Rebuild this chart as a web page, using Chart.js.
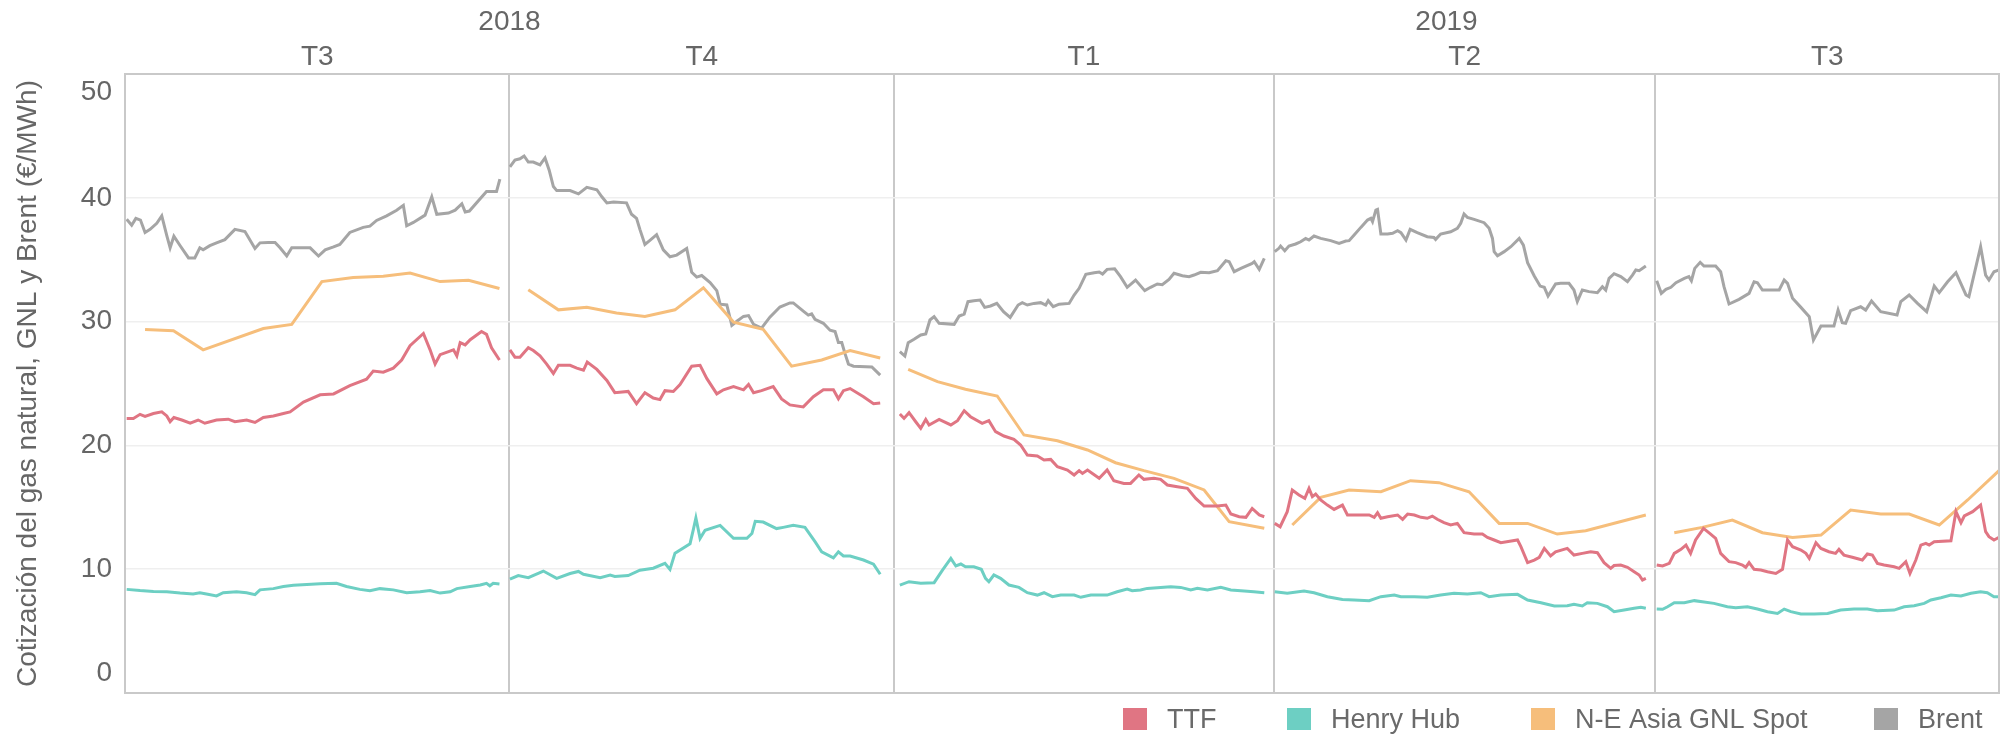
<!DOCTYPE html>
<html><head><meta charset="utf-8">
<script src="https://cdn.jsdelivr.net/npm/chart.js@4.4.1/dist/chart.umd.min.js"></script>
<style>html,body{margin:0;padding:0;background:#fff;}#wrap{width:2002px;height:738px;}</style>
</head><body><div id="wrap"><canvas id="c" width="2002" height="738"></canvas></div>
<script>
// x values are days since 2018-07-01; each pane is one quarter
const paneBounds = [0, 92, 184, 274.9, 366.2, 448.4];
const quarterLabels = ['T3', 'T4', 'T1', 'T2', 'T3'];
const yearLabels = ['2018', '2019'];
const yearPaneSpans = [[0, 2], [2, 5]];
const yTicks = [0, 10, 20, 30, 40, 50];
const seriesNames = ['TTF', 'Henry Hub', 'N-E Asia GNL Spot', 'Brent'];
const seriesColors = ['#e07583', '#6dcfc3', '#f6be7b', '#a5a5a5'];
const yTitle = 'Cotización del gas natural, GNL y Brent (€/MWh)';

const ttf = [
[0.4,22.18],[2,22.18],[3.6,22.51],[4.8,22.35],[6.8,22.58],[8.8,22.71],[10,22.38],[10.8,21.92],[11.7,22.25],[13.6,22.05],[15.6,21.79],[17.5,22.05],[19.1,21.79],[21.9,22.05],[24.7,22.12],[26.3,21.92],[29.1,22.05],[31.1,21.85],[33.1,22.25],[35.5,22.38],[37.9,22.58],[39.5,22.71],[42.7,23.5],[46.7,24.09],[49.9,24.16],[53.8,24.82],[57.8,25.35],[59.4,26.01],[61.8,25.91],[64.2,26.24],[66.2,26.9],[68.2,28.05],[71.4,29.04],[73,27.72],[74.2,26.57],[75.4,27.33],[78.6,27.72],[79.4,27.23],[80.2,28.31],[81.4,28.12],[82.6,28.54],[85.3,29.2],[86.5,28.97],[87.7,27.89],[89.6,26.9],
[92.1,27.72],[93.3,27.13],[94.5,27.13],[96.5,27.89],[97.7,27.66],[99.3,27.23],[100.9,26.57],[102.5,25.81],[103.7,26.47],[106.5,26.47],[108.1,26.24],[109.7,26.07],[110.6,26.73],[112.9,26.14],[115.3,25.25],[117.2,24.26],[120.4,24.36],[122.4,23.37],[124.4,24.26],[126.4,23.83],[128,23.7],[129.2,24.42],[131.2,24.36],[132.8,24.92],[135.6,26.4],[137.6,26.47],[139.2,25.41],[141.6,24.16],[143.2,24.49],[145.6,24.75],[148,24.49],[149.2,24.92],[150.4,24.26],[152.3,24.42],[155.1,24.75],[157.1,23.76],[159.1,23.27],[162.3,23.11],[164.7,23.93],[167.1,24.49],[169.5,24.49],[170.7,23.76],[171.9,24.42],[173.5,24.59],[176.7,23.93],[179.1,23.37],[180.7,23.43],
[185.4,22.53],[186.4,22.18],[187.6,22.64],[189.2,21.91],[190.4,21.38],[191.6,22.1],[192.4,21.65],[194.8,22.1],[197.6,21.65],[199.2,22.0],[200.8,22.8],[202.3,22.32],[205.1,21.78],[206.7,22.0],[208.3,21.11],[210.3,20.76],[212.7,20.49],[214.3,20.03],[215.9,19.22],[218.3,19.14],[219.9,18.82],[221.5,18.87],[223.1,18.28],[225.5,18.01],[227.1,17.61],[228.3,17.96],[229.1,17.74],[230.3,18.01],[233.1,17.34],[235,18.01],[236.6,17.15],[239,16.93],[240.6,16.93],[242.6,17.61],[243.8,17.26],[246.2,17.34],[247.8,17.26],[249.4,16.8],[251.8,16.66],[254.2,16.53],[256.2,15.72],[258.2,15.1],[261.4,15.1],[263.4,15.18],[264.6,14.46],[266.6,14.24],[268.2,14.19],[269.7,14.91],[271.4,14.38],[272.6,14.24],
[275.1,13.7],[276.4,13.43],[278.1,14.65],[279.3,16.39],[280.9,15.99],[282.3,15.72],[283.3,16.53],[284.1,15.86],[284.9,16.07],[286.1,15.59],[287.7,15.18],[289.3,14.83],[291.3,15.18],[292.5,14.38],[294.9,14.38],[297.7,14.38],[298.9,14.19],[299.7,14.56],[300.5,14.11],[302.1,14.24],[304.5,14.38],[305.7,14.03],[306.9,14.46],[308.5,14.38],[310.1,14.19],[311.6,14.11],[312.8,14.29],[314,14.03],[315.6,13.76],[317.2,13.57],[318.8,13.7],[320.4,12.95],[322.8,12.84],[324.8,12.84],[326,12.57],[327.6,12.36],[329.2,12.14],[333.2,12.36],[334,11.82],[335.6,10.53],[337.2,10.74],[338.4,10.96],[339.6,11.68],[341.1,11.07],[342.3,11.41],[345.1,11.68],[346.7,11.14],[348.7,11.28],[350.7,11.41],[352.3,11.33],[353.9,10.53],[355.5,10.07],[356.3,10.3],[357.9,10.34],[359.5,10.15],[361.1,9.8],[362.3,9.53],[363.1,9.13],[363.9,9.26],
[366.5,10.34],[367.9,10.26],[369.5,10.47],[370.7,11.28],[372.3,11.6],[373.5,11.95],[374.6,11.28],[375.8,12.36],[377.7,13.3],[379.4,12.84],[380.6,12.49],[381.8,11.28],[383.8,10.61],[385.4,10.53],[387,10.34],[387.8,10.15],[388.6,10.53],[389.8,9.99],[391.4,9.93],[393,9.8],[395,9.66],[396.6,9.99],[397.8,12.36],[399,11.82],[401,11.55],[402.2,11.28],[403,10.88],[404.6,12.14],[405.8,11.68],[407.7,11.41],[409.3,11.28],[410.1,11.6],[411.3,11.14],[413.3,10.96],[415.7,10.74],[416.9,11.23],[418.1,11.14],[419.3,10.47],[420.9,10.34],[423.3,10.2],[424.5,10.07],[426.1,10.61],[427.1,9.66],[428.5,10.74],[429.7,11.95],[430.9,12.09],[431.7,11.95],[432.9,12.22],[436.9,12.3],[438.1,14.65],[439.3,13.76],[440.1,14.3],[442.1,14.65],[444,15.18],[445.2,13.03],[446,12.63],[447.2,12.36],[448.4,12.57]
];

const henryHub = [
[0.4,8.37],[3.6,8.27],[6.8,8.2],[10,8.17],[13.2,8.07],[16.3,8.0],[17.9,8.1],[19.5,8.0],[21.9,7.84],[23.5,8.1],[26.7,8.17],[29.1,8.1],[31.1,7.94],[32.3,8.33],[35.5,8.43],[37.9,8.6],[40.3,8.7],[43.5,8.76],[46.7,8.83],[50.6,8.86],[53,8.6],[56.2,8.37],[58.6,8.27],[61,8.43],[64.2,8.33],[67.4,8.1],[70.6,8.17],[73,8.27],[75.4,8.07],[77.8,8.17],[79.4,8.43],[82.6,8.6],[85,8.73],[86.5,8.86],[87.3,8.66],[88.1,8.86],[89.6,8.8],
[92.1,9.19],[94.1,9.49],[96.5,9.32],[100.1,9.85],[103.3,9.26],[106.5,9.65],[108.5,9.82],[109.7,9.59],[113.7,9.32],[116.1,9.52],[117.2,9.42],[120.4,9.49],[123.2,9.92],[126.4,10.08],[129.2,10.48],[130.4,9.98],[131.6,11.3],[135.2,12.06],[136,13.21],[136.6,14.14],[137.6,12.49],[138.8,13.15],[142.4,13.54],[145.6,12.49],[148.8,12.49],[150,12.88],[150.8,13.87],[152.7,13.81],[155.9,13.28],[157.5,13.38],[159.9,13.54],[162.7,13.38],[165.1,12.22],[166.7,11.4],[169.5,10.91],[170.7,11.4],[171.9,11.07],[173.5,11.07],[176.7,10.74],[179.1,10.41],[180.7,9.59],
[185.4,8.72],[187.6,8.99],[190.4,8.86],[193.6,8.91],[195.6,9.93],[197.6,10.88],[198.8,10.26],[200,10.42],[201.1,10.2],[203.1,10.2],[204.9,9.99],[205.9,9.26],[206.7,8.99],[207.9,9.53],[209.5,9.26],[211.5,8.72],[213.9,8.53],[215.9,8.1],[218.3,7.91],[219.9,8.1],[221.9,7.78],[223.9,7.91],[227.1,7.91],[228.7,7.73],[231.1,7.91],[235,7.91],[237.4,8.18],[239.8,8.4],[241,8.26],[243,8.32],[244.6,8.45],[247.8,8.53],[250.2,8.59],[252.6,8.53],[255,8.32],[256.6,8.45],[259,8.32],[262.2,8.53],[264.6,8.32],[267.8,8.24],[270.1,8.18],[272.6,8.1],
[275.1,8.18],[278.1,8.05],[282.1,8.24],[284.5,8.1],[287.7,7.78],[291.3,7.56],[294.1,7.51],[297.7,7.46],[300.5,7.78],[303.7,7.91],[305.3,7.78],[308.5,7.78],[311.6,7.73],[314.8,7.91],[318,8.05],[321.2,7.99],[324.4,8.1],[326.4,7.78],[329.2,7.91],[333.2,7.97],[335.6,7.51],[338.8,7.29],[342,7.03],[345.1,7.05],[346.7,7.16],[348.7,7.03],[349.9,7.29],[352.3,7.24],[354.7,6.97],[356.3,6.57],[358.7,6.7],[361.1,6.84],[362.7,6.92],[363.9,6.84],
[366.5,6.78],[367.9,6.76],[369.1,6.97],[370.7,7.29],[373.1,7.29],[375.5,7.46],[377.4,7.37],[380.2,7.24],[383.4,6.97],[385.4,6.89],[388.2,6.97],[390.6,6.78],[393,6.57],[395.4,6.43],[397,6.78],[398.6,6.57],[401,6.38],[404.2,6.38],[407.4,6.43],[410.5,6.7],[413.7,6.78],[416.9,6.78],[419.3,6.65],[423.3,6.7],[425.7,6.97],[428.1,7.05],[430.5,7.24],[432.1,7.51],[434.5,7.7],[436.9,7.91],[439.3,7.83],[441.7,8.05],[444,8.18],[445.6,8.1],[447.2,7.78],[448.4,7.78]
];

const lngAsia = [
[4.8,29.37],[11.6,29.27],[18.7,27.72],[33.1,29.44],[39.9,29.77],[47.1,33.23],[54.6,33.56],[61.8,33.66],[68.2,33.92],[75.4,33.23],[82.2,33.33],[89.6,32.67],
[96.5,32.57],[103.7,30.95],[110.5,31.15],[117.6,30.69],[124.4,30.42],[131.6,30.95],[138.4,32.73],[145.6,29.96],[152.7,29.37],[159.5,26.4],[166.7,26.9],[173.5,27.66],[180.7,27.06],
[187.4,26.14],[194.4,25.15],[201.1,24.53],[208.7,23.99],[215.1,20.84],[223.1,20.38],[230.3,19.63],[237,18.6],[243.8,17.96],[251,17.34],[258.2,16.4],[264.2,13.84],[272.6,13.3],
[279.3,13.57],[286.1,15.8],[292.9,16.39],[300.5,16.26],[307.6,17.15],[314.4,16.99],[321.6,16.26],[328.8,13.7],[335.6,13.7],[342.7,12.84],[349.5,13.11],[363.9,14.38],
[370.7,12.95],[377.4,13.38],[384.6,13.97],[391.8,12.95],[399,12.57],[405.8,12.76],[412.9,14.78],[420.1,14.46],[426.9,14.46],[434.1,13.57],[440.9,15.59],[448.4,17.96]
];

const brent = [
[0.4,38.27],[1.6,37.78],[2.6,38.34],[3.7,38.2],[4.8,37.2],[6,37.45],[7.6,37.94],[8.8,38.54],[10,36.95],[10.8,35.96],[11.7,36.9],[13.2,36.13],[15.2,35.14],[16.7,35.14],[17.9,35.96],[18.7,35.8],[20.3,36.13],[21.9,36.36],[23.9,36.62],[26.3,37.45],[28.7,37.28],[31.1,35.9],[32.3,36.36],[34.3,36.39],[35.9,36.39],[37.1,35.96],[38.7,35.3],[39.9,35.96],[42.3,35.96],[44.3,35.96],[46.3,35.3],[47.9,35.8],[49.9,36.03],[51.4,36.23],[53.8,37.2],[57,37.61],[58.6,37.71],[60.2,38.17],[62.6,38.54],[65,39],[66.6,39.39],[67.4,37.74],[69,38.01],[71.8,38.6],[73.4,40.08],[74.6,38.67],[77.4,38.77],[79,39],[80.6,39.52],[81.4,38.86],[82.4,38.93],[86.5,40.51],[88.9,40.51],[89.7,41.5],
[92.1,42.49],[93.3,43.05],[94.5,43.15],[95.5,43.38],[96.5,42.89],[97.7,42.89],[99.3,42.66],[100.5,43.22],[101.5,42.23],[102.5,40.91],[103.3,40.58],[106.5,40.58],[108.5,40.32],[110.5,40.84],[112.9,40.65],[114.1,40.08],[115.3,39.59],[116.9,39.66],[120,39.59],[121.2,38.67],[122.4,38.34],[123.2,37.45],[124.4,36.23],[125.6,36.56],[127.2,37.02],[128.8,35.8],[130.4,35.24],[132,35.37],[134.4,35.9],[135.6,33.99],[136.8,33.59],[138,33.72],[140,33.16],[141.6,32.5],[142.4,31.41],[144,31.35],[145.2,29.7],[146.4,30.03],[148,30.42],[149.2,30.49],[150.4,29.77],[152.3,29.47],[154.3,30.36],[156.7,31.18],[159.1,31.51],[159.9,31.51],[162.3,30.85],[163.5,30.52],[164.3,30.62],[165.1,30.19],[167.1,29.86],[168.7,29.3],[169.9,29.2],[170.7,28.31],[171.5,28.31],[172.3,27.39],[173.1,26.57],[174.3,26.4],[178.7,26.34],[180.7,25.68],
[185.4,27.57],[186.6,27.22],[187.4,28.3],[188.8,28.57],[190.4,28.92],[191.6,29.0],[192.6,30.13],[193.6,30.4],[194.8,29.86],[198.4,29.78],[199.6,30.45],[200.8,30.61],[201.7,31.61],[203.1,31.69],[204.6,31.74],[205.7,31.15],[207.1,31.26],[208.6,31.47],[210.2,30.8],[211.8,30.34],[213.7,31.34],[214.7,31.53],[215.9,31.34],[217.5,31.47],[219.1,31.53],[220.3,31.34],[220.9,31.69],[222.1,31.2],[223.5,31.41],[225.9,31.47],[227.1,32.15],[228.3,32.69],[229.9,33.82],[231.9,33.95],[233.1,34.0],[233.9,33.84],[235,34.22],[236.8,34.27],[238.2,33.63],[239.8,32.77],[241.8,33.36],[244,32.5],[245.4,32.77],[247,33.04],[248.2,32.98],[249.8,33.41],[251,33.9],[253,33.71],[254.6,33.63],[255.8,33.76],[257.4,33.98],[259.4,33.95],[261.4,34.11],[263.4,34.92],[264.2,34.84],[265.4,34.03],[267,34.3],[269.7,34.7],[270.2,34.84],[271.4,34.22],[272.6,35.11],
[275.1,35.65],[276.1,35.92],[276.5,36.1],[277.5,35.73],[278.5,36.1],[280.1,36.27],[281.3,36.45],[282.5,36.72],[283.3,36.59],[284.5,36.91],[286.1,36.72],[288.5,36.54],[290.5,36.32],[292.1,36.51],[292.9,36.54],[294.1,36.99],[295.7,37.61],[297.3,38.2],[298.1,38.34],[298.5,38.07],[299.3,39.01],[299.7,39.07],[300.5,37.07],[302.1,37.07],[303.3,37.13],[304.5,37.34],[305.3,37.18],[306.5,36.59],[307.5,37.45],[309.2,37.18],[311.6,36.86],[313.2,36.8],[313.6,36.64],[314.8,37.07],[317.2,37.26],[318.8,37.53],[319.6,37.94],[320.4,38.69],[321.2,38.42],[322.8,38.26],[325.2,37.99],[326.4,37.53],[327.2,36.72],[327.6,35.65],[328.4,35.32],[330,35.65],[331.6,36.05],[333.6,36.72],[334.6,36.18],[335.6,34.76],[337.2,33.68],[338.6,32.87],[339.6,32.77],[340.5,32.07],[342.3,33.04],[343.5,33.09],[345.5,33.09],[346.7,32.55],[347.5,31.61],[348.7,32.55],[350.3,32.42],[352.3,32.34],[353.5,32.82],[354.3,32.55],[355.1,33.49],[356.3,33.87],[357.9,33.63],[359.5,33.22],[360.7,33.76],[361.5,34.17],[362.3,34.11],[363.9,34.49],
[366.5,33.3],[367.6,32.28],[368.7,32.6],[369.9,32.77],[371.1,33.14],[373.1,33.49],[374.2,33.63],[374.8,33.3],[375.6,34.3],[376.9,34.79],[377.8,34.49],[380.6,34.49],[381.8,34.03],[382.6,32.82],[383.8,31.42],[386.2,31.8],[388.6,32.28],[389.8,33.22],[390.6,33.14],[391.8,32.55],[395.8,32.55],[397,33.36],[397.8,33.09],[399,31.88],[401,31.15],[403,30.4],[404,28.51],[405.8,29.64],[408.9,29.64],[409.9,30.93],[410.9,29.91],[411.7,29.86],[412.9,30.88],[415.3,31.2],[416.5,30.93],[417.9,31.66],[420.1,30.8],[424,30.53],[424.9,31.61],[426.9,32.15],[428.9,31.47],[431.1,30.8],[432.9,32.87],[434.1,32.34],[436.1,33.22],[438.1,33.95],[440.5,32.15],[441.2,32.01],[444,36.05],[445.2,33.76],[446,33.36],[447.2,34.03],[448.4,34.17]
];

const FONT = "'Liberation Sans', Arial, sans-serif";
const TEXT = '#666666';

function paneOf(x) {
  let p = 0;
  while (p < paneBounds.length - 2 && x >= paneBounds[p + 1]) p++;
  return p;
}
function withBreaks(points) {
  const out = [];
  let prev = -1;
  for (const [x, y] of points) {
    const p = paneOf(x);
    if (prev !== -1 && p !== prev) out.push({x: paneBounds[p], y: null});
    out.push({x, y});
    prev = p;
  }
  return out;
}

const allSeries = [ttf, henryHub, lngAsia, brent];
const datasets = allSeries.map((s, i) => ({
  label: seriesNames[i],
  data: withBreaks(s),
  borderColor: seriesColors[i],
  backgroundColor: seriesColors[i],
  borderWidth: 3,
  pointRadius: 0,
  tension: 0,
  spanGaps: false,
  order: i
}));

const decor = {
  id: 'decor',
  afterDraw(chart) {
    const {ctx, chartArea: a, scales} = chart;
    const xs = scales.x, ys = scales.y;
    ctx.save();
    // plot frame
    ctx.strokeStyle = '#c9c9c9';
    ctx.lineWidth = 2;
    ctx.strokeRect(a.left, a.top, a.right - a.left, a.bottom - a.top);
    // y tick labels
    ctx.fillStyle = TEXT;
    ctx.font = '28px ' + FONT;
    ctx.textAlign = 'right';
    ctx.textBaseline = 'middle';
    yTicks.forEach(v => {
      let py = ys.getPixelForValue(v);
      py = Math.min(Math.max(py, a.top + 18), a.bottom - 20);
      ctx.fillText(String(v), a.left - 13, py);
    });
    // quarter headers
    ctx.textAlign = 'center';
    quarterLabels.forEach((q, i) => {
      const x0 = xs.getPixelForValue(paneBounds[i]);
      const x1 = xs.getPixelForValue(paneBounds[i + 1]);
      ctx.fillText(q, (x0 + x1) / 2, 57);
    });
    yearLabels.forEach((y, i) => {
      const [p0, p1] = yearPaneSpans[i];
      const x0 = xs.getPixelForValue(paneBounds[p0]);
      const x1 = xs.getPixelForValue(paneBounds[p1]);
      ctx.fillText(y, (x0 + x1) / 2, 22);
    });
    // legend
    const legendX = [1123, 1287, 1531, 1874];
    ctx.textAlign = 'left';
    ctx.font = '27px ' + FONT;
    chart.data.datasets.forEach((d, i) => {
      ctx.fillStyle = d.borderColor;
      ctx.fillRect(legendX[i], 708, 24, 22);
      ctx.fillStyle = '#6a6a6a';
      ctx.fillText(d.label, legendX[i] + 44, 721);
    });
    ctx.restore();
  }
};

new Chart(document.getElementById('c'), {
  type: 'line',
  data: {datasets},
  options: {
    responsive: false,
    animation: false,
    devicePixelRatio: 1,
    layout: {padding: {left: 7, right: 3, top: 74, bottom: 45}},
    plugins: {legend: {display: false}, tooltip: {enabled: false}},
    scales: {
      x: {
        type: 'linear',
        min: paneBounds[0],
        max: paneBounds[paneBounds.length - 1],
        afterBuildTicks: s => { s.ticks = paneBounds.map(v => ({value: v})); },
        ticks: {display: false},
        grid: {color: '#c9c9c9', lineWidth: 2, drawTicks: false},
        border: {display: false},
        afterFit: s => { s.height = 0; }
      },
      y: {
        min: 0,
        max: 50,
        afterBuildTicks: s => { s.ticks = yTicks.map(v => ({value: v})); },
        ticks: {display: false},
        grid: {color: '#efefef', lineWidth: 1.5, drawTicks: false},
        border: {display: false},
        title: {display: true, text: yTitle, color: TEXT, font: {family: FONT, size: 28}, padding: {top: 4, bottom: 4}},
        afterFit: s => { s.width = 118; }
      }
    }
  },
  plugins: [decor]
});
</script>
</body></html>
